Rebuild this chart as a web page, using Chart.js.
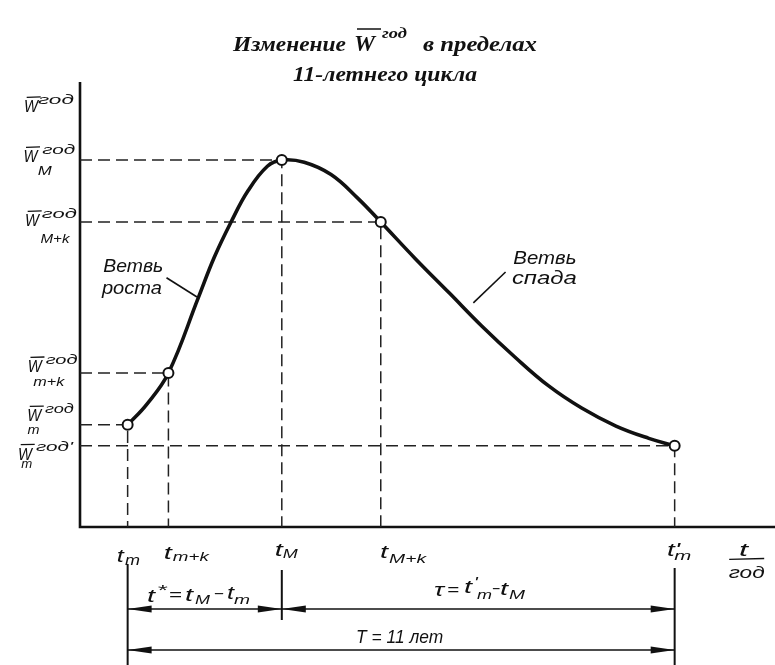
<!DOCTYPE html>
<html><head><meta charset="utf-8">
<script src="https://cdn.jsdelivr.net/npm/chart.js@4.4.1/dist/chart.umd.min.js"></script>
<style>html,body{margin:0;padding:0;background:#fff;overflow:hidden}#wrap{width:775px;height:665px}canvas{display:block}</style>
</head><body>
<div id="wrap"><canvas id="c" width="775" height="665"></canvas></div>
<script>
// ---- data (years from t_m, W in relative units) ----
const curveT = [0, 0.38, 0.82, 1.42, 1.74, 2.08, 2.42, 2.81, 3.10, 3.55, 4.09, 4.62, 5.09, 5.78, 6.47, 7.12, 7.78, 8.46, 9.13, 9.82, 10.48, 11];
const curveW = [23.3, 27.9, 35.1, 52.2, 61.4, 69.5, 76.6, 82.2, 83.6, 83.1, 80.3, 75.0, 69.5, 61.2, 53.3, 45.8, 38.8, 32.2, 27.1, 23.0, 20.2, 18.5];
const keyNames = ['t_m', 't_m+k', 't_M', 't_M+k', "t'_m"];
const keyT = [0, 0.82, 3.10, 5.09, 11];
const keyW = [23.3, 35.1, 83.6, 69.5, 18.5];
const xRange = [-0.958, 12.877];
const yRange = [0, 101.4];

const ROT = 0.026;
function F(x, y) { return [x + (y - 330) * ROT, y - (x - 390) * ROT]; }
function put(ctx, s, x, y, size, w, o) {
  o = o || {};
  const p = o.raw ? [x, y] : F(x, y);
  ctx.save();
  ctx.font = (o.bold ? 'bold ' : '') + 'italic ' + size + 'px ' + (o.serif ? '"Liberation Serif"' : '"Liberation Sans"');
  ctx.fillStyle = '#111';
  ctx.textAlign = 'left'; ctx.textBaseline = 'alphabetic';
  ctx.translate(p[0], p[1]);
  if (w) { const m = ctx.measureText(s).width; ctx.scale(w / m, 1); }
  ctx.fillText(s, 0, 0);
  ctx.restore();
}
function seg(ctx, x1, y1, x2, y2, lw, raw) {
  const a = raw ? [x1, y1] : F(x1, y1), b = raw ? [x2, y2] : F(x2, y2);
  ctx.save(); ctx.strokeStyle = '#111'; ctx.lineWidth = lw;
  ctx.beginPath(); ctx.moveTo(a[0], a[1]); ctx.lineTo(b[0], b[1]); ctx.stroke(); ctx.restore();
}
function line(ctx, x1, y1, x2, y2, lw) {
  ctx.save(); ctx.strokeStyle = '#111'; ctx.lineWidth = lw;
  ctx.beginPath(); ctx.moveTo(x1, y1); ctx.lineTo(x2, y2); ctx.stroke(); ctx.restore();
}
function head(ctx, xt, y, dir) { // dir -1 points left, +1 right
  const L = 24, H = 3.6;
  ctx.save(); ctx.fillStyle = '#111';
  ctx.beginPath(); ctx.moveTo(xt, y); ctx.lineTo(xt - dir * L, y - H); ctx.lineTo(xt - dir * L, y + H); ctx.closePath(); ctx.fill();
  ctx.restore();
}
function dimArrow(ctx, xa, xb, y) {
  line(ctx, xa, y, xb, y, 1.6);
  head(ctx, xa, y, -1); head(ctx, xb, y, 1);
}
function wLabel(ctx, x, base, sup, supX, supW, sub, subX, subW, subBase) {
  put(ctx, 'W', x, base, 17, 14);
  seg(ctx, x + 3, base - 15, x + 17, base - 15, 1.3);
  put(ctx, sup, supX, base - 8, 13, supW);
  if (sub) put(ctx, sub, subX, subBase, 12, subW);
}

const annot = {
  id: 'annot',
  beforeDatasetsDraw(chart) {
    const { ctx, chartArea: a } = chart;
    ctx.save(); ctx.strokeStyle = '#111'; ctx.lineWidth = 2.6;
    ctx.beginPath(); ctx.moveTo(a.left, a.top); ctx.lineTo(a.left, a.bottom); ctx.lineTo(chart.width, a.bottom); ctx.stroke();
    ctx.restore();
  },
  afterDraw(chart) {
    const ctx = chart.ctx, xs = chart.scales.x;
    const px = keyT.map(t => xs.getPixelForValue(t));
    // title
    put(ctx, 'Изменение', 233, 51, 21, 113, { raw: 1, bold: 1, serif: 1 });
    put(ctx, 'W', 354, 51, 23, 21, { raw: 1, bold: 1, serif: 1 });
    seg(ctx, 357, 29, 381, 29, 1.5, true);
    put(ctx, 'год', 382, 38, 14, 25, { raw: 1, bold: 1, serif: 1 });
    put(ctx, 'в пределах', 423, 51, 21, 114, { raw: 1, bold: 1, serif: 1 });
    put(ctx, '11-летнего цикла', 293, 81, 21, 184, { raw: 1, bold: 1, serif: 1 });
    // y-axis labels
    wLabel(ctx, 30, 103, 'год', 44, 36);
    wLabel(ctx, 28, 153, 'год', 47, 33, 'M', 42, 14, 166);
    wLabel(ctx, 28, 217, 'год', 45, 35, 'M+k', 43, 29, 234);
    wLabel(ctx, 27, 363, 'год', 45, 32, 'm+k', 32, 31, 377);
    wLabel(ctx, 25, 412, 'год', 43, 29, 'm', 25, 12, 425);
    wLabel(ctx, 15, 450, "год'", 33, 37, 'm', 18, 11, 458);
    // branch labels
    put(ctx, 'Ветвь', 105, 265, 18, 60);
    put(ctx, 'роста', 103, 287, 18, 60);
    seg(ctx, 168, 272, 198, 292, 1.6);
    put(ctx, 'Ветвь', 515, 267, 18, 63);
    put(ctx, 'спада', 513, 287, 18, 65);
    seg(ctx, 507, 275, 474, 305, 1.6);
    // x labels
    put(ctx, 't', 111, 555, 18, 7); put(ctx, 'm', 119, 558, 14, 15);
    put(ctx, 't', 158, 553, 18, 8); put(ctx, 'm+k', 167, 555, 13, 36);
    put(ctx, 't', 269, 553, 18, 8); put(ctx, 'M', 277, 555, 13, 15);
    put(ctx, 't', 374, 558, 18, 8); put(ctx, 'M+k', 383, 563, 13, 37);
    put(ctx, "t'", 661, 563, 18, 13); put(ctx, 'm', 668, 567, 13, 17);
    put(ctx, 't', 733, 565, 18, 9);
    seg(ctx, 723, 568, 758, 568, 1.4);
    put(ctx, 'год', 722, 587, 16, 36);
    // dimension lines
    line(ctx, px[0], 564, px[0], 665, 2);
    line(ctx, px[2], 570, px[2], 620, 2);
    line(ctx, px[4], 568, px[4], 665, 2);
    dimArrow(ctx, px[0], px[2], 609);
    dimArrow(ctx, px[2], px[4], 609);
    dimArrow(ctx, px[0], px[4], 650);
    // dimension texts
    put(ctx, 't', 140, 595, 18, 8); put(ctx, '*', 150, 589, 14, 10); put(ctx, '=', 162, 594, 16, 13);
    put(ctx, 't', 178, 595, 18, 8); put(ctx, 'M', 188, 599, 13, 15); put(ctx, '−', 207, 594, 16, 10);
    put(ctx, 't', 220, 595, 18, 7); put(ctx, 'm', 227, 600, 13, 16);
    put(ctx, 'τ', 427, 597, 18, 10); put(ctx, '=', 440, 596, 16, 12);
    put(ctx, 't', 457, 595, 18, 8); put(ctx, "'", 467, 589, 14, 4); put(ctx, 'm', 470, 601, 13, 15);
    put(ctx, '−', 485, 596, 16, 8); put(ctx, 't', 493, 598, 18, 8); put(ctx, 'M', 502, 602, 13, 16);
    put(ctx, 'T = 11 лет', 348, 642, 18, 87);
  }
};

const guideSets = keyT.map((t, i) => ({
  label: 'guide ' + keyNames[i],
  data: [{ x: xRange[0], y: keyW[i] }, { x: t, y: keyW[i] }, { x: t, y: yRange[0] }],
  borderColor: '#222', borderWidth: 1.5, borderDash: [12, 6], pointRadius: 0, tension: 0, fill: false, order: 3
}));

new Chart(document.getElementById('c'), {
  type: 'line',
  data: {
    datasets: [
      ...guideSets,
      {
        label: 'W год',
        data: curveT.map((t, i) => ({ x: t, y: curveW[i] })),
        borderColor: '#111', borderWidth: 3.6, pointRadius: 0, tension: 0.4, fill: false, order: 2
      },
      {
        label: 'points',
        data: keyT.map((t, i) => ({ x: t, y: keyW[i] })),
        showLine: false, pointRadius: 5, pointBorderWidth: 2, pointBackgroundColor: '#fff', pointBorderColor: '#111', order: 1
      }
    ]
  },
  options: {
    responsive: false, animation: false, devicePixelRatio: 1,
    layout: { padding: { left: 80, right: 2, top: 82, bottom: 138 } },
    plugins: { legend: { display: false }, tooltip: { enabled: false }, title: { display: false } },
    scales: {
      x: { type: 'linear', display: false, min: xRange[0], max: xRange[1] },
      y: { type: 'linear', display: false, min: yRange[0], max: yRange[1] }
    }
  },
  plugins: [annot]
});
</script>
</body></html>
